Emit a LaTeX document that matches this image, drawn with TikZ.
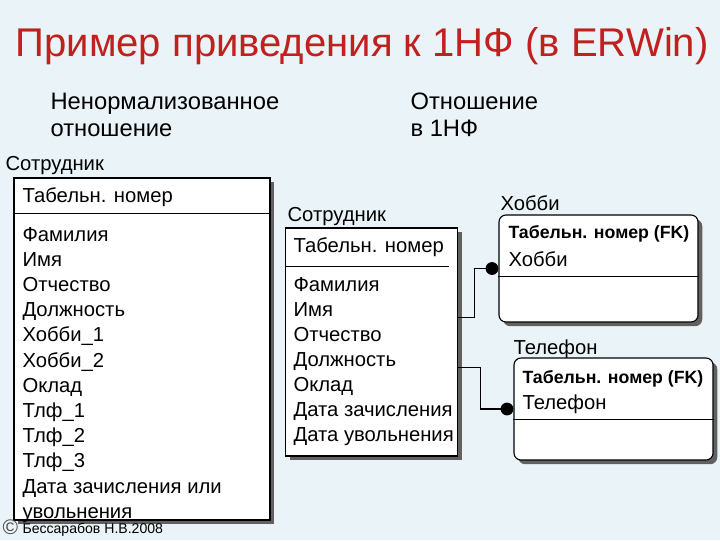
\documentclass[tikz,border=0pt]{standalone}
\usepackage{fontspec}
\setmainfont{Liberation Sans}
\usetikzlibrary{arrows.meta, calc, shadows}
\definecolor{cbg}{HTML}{EAF4F8}
\definecolor{cred}{HTML}{C0201E}
\tikzset{
  every picture/.style={line width=0.8pt},
  entity/.style={draw=black, fill=white, line width=0.8pt, inner sep=0pt,
    drop shadow={opacity=1, fill=black!62, shadow xshift=3pt, shadow yshift=-3pt}},
  weak/.style={entity, rounded corners=5pt},
  attr/.style={anchor=base west, inner sep=0pt, font=\fontsize{14.4}{17}\selectfont},
  keyattr/.style={attr, font=\fontsize{12.6}{15}\selectfont\bfseries},
  head/.style={anchor=base west, inner sep=0pt, font=\fontsize{16.9}{20}\selectfont},
  keyline/.style={line width=0.5pt},
  rel/.style={-{Circle[length=3.2mm]}, line width=0.8pt},
}

\begin{document}
\begin{tikzpicture}[x=0.025cm, y=-0.025cm]
  \useasboundingbox (0,0) rectangle (720,540);
  \fill[cbg] (0,0) rectangle (720,540);
  \node[anchor=base west, inner sep=0pt, font=\fontsize{28.5}{32}\selectfont, text=cred] (title) at (15,56)
    {Пример приведения к 1НФ (в ERWin)};
  \node[head] (h1) at (50,109) {Ненормализованное};
  \node[head] (h2) at (50,136) {отношение};
  \node[head] (h3) at (410,109) {Отношение};
  \node[head] (h4) at (410,136) {в 1НФ};

  % unnormalized relation
  \node[attr] (lname) at (5,170) {Сотрудник};
  \node[entity, minimum width=6.4cm, minimum height=8.55cm] (emp0) at (142,349) {};
  \draw[keyline] ($(emp0.north west)+(0,36)$) -- ($(emp0.north east)+(0,36)$);
  \node[attr] (lkey) at (22,202) {Табельн. номер};
  \foreach \t [count=\i] in {Фамилия, Имя, Отчество, Должность, Хобби\_1, Хобби\_2, Оклад,
      Тлф\_1, Тлф\_2, Тлф\_3, Дата зачисления или, увольнения}
    \node[attr] (la\i) at (22,215.8+\i*25.2) {\t};

  % relation in 1NF
  \node[attr] (mname) at (287,221) {Сотрудник};
  \node[entity, minimum width=4.3cm, minimum height=5.7cm] (emp) at (371.5,342) {};
  \draw[keyline] ($(emp.north west)+(0,39)$) -- ($(emp.north east)+(-9,39)$);
  \node[attr] (mkey) at (293,252) {Табельн. номер};
  \foreach \t [count=\i] in {Фамилия, Имя, Отчество, Должность, Оклад,
      Дата зачисления, Дата увольнения}
    \node[attr] (ma\i) at (293,266+\i*25) {\t};

  \node[attr] (hname) at (500,210) {Хобби};
  \node[weak, minimum width=4.975cm, minimum height=2.675cm] (hob) at (598.5,268.5) {};
  \draw[keyline] ($(hob.north west)+(0,62)$) -- ($(hob.north east)+(0,62)$);
  \node[keyattr] (hkey) at (508,238) {Табельн. номер (FK)};
  \node[attr] (hval) at (508,266) {Хобби};

  \node[attr] (tname) at (513,354) {Телефон};
  \node[weak, minimum width=4.975cm, minimum height=2.55cm] (tel) at (613.5,409) {};
  \draw[keyline] ($(tel.north west)+(0,62)$) -- ($(tel.north east)+(0,62)$);
  \node[keyattr] (tkey) at (522,383) {Табельн. номер (FK)};
  \node[attr] (tval) at (522,409) {Телефон};

  \draw[rel] ($(emp.north east)+(0,90)$) -- ++(16,0) |- (hob.west);
  \draw[rel] ($(emp.north east)+(0,140)$) -- ++(22,0) |- (tel.west);

  \node[anchor=base west, inner sep=0pt, font=\fontsize{15}{16}\selectfont, text=black!70] (copy) at (2,534) {©};
  \node[anchor=base west, inner sep=0pt, font=\fontsize{10}{12}\selectfont] (author) at (22,533)
    {Бессарабов Н.В.2008};
\end{tikzpicture}
\end{document}
